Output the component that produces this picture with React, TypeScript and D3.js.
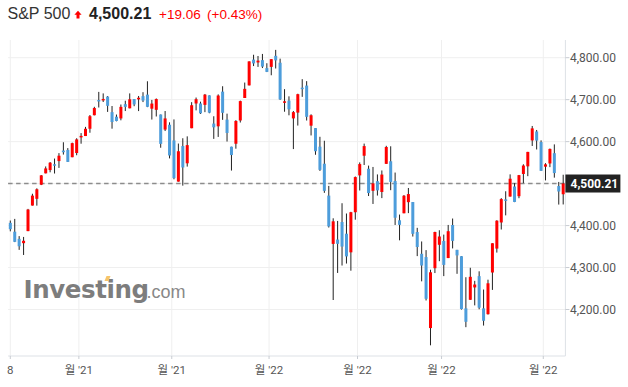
import React from "react";
import * as d3 from "d3";

// S&P 500 daily candles, 2021-10-08 .. 2022-04-07
const dates = [
  "2021-10-08","2021-10-11","2021-10-12","2021-10-13","2021-10-14","2021-10-15","2021-10-18","2021-10-19","2021-10-20","2021-10-21","2021-10-22","2021-10-25","2021-10-26","2021-10-27","2021-10-28","2021-10-29",
  "2021-11-01","2021-11-02","2021-11-03","2021-11-04","2021-11-05","2021-11-08","2021-11-09","2021-11-10","2021-11-11","2021-11-12","2021-11-15","2021-11-16","2021-11-17","2021-11-18","2021-11-19","2021-11-22","2021-11-23","2021-11-24","2021-11-26","2021-11-29","2021-11-30",
  "2021-12-01","2021-12-02","2021-12-03","2021-12-06","2021-12-07","2021-12-08","2021-12-09","2021-12-10","2021-12-13","2021-12-14","2021-12-15","2021-12-16","2021-12-17","2021-12-20","2021-12-21","2021-12-22","2021-12-23","2021-12-27","2021-12-28","2021-12-29","2021-12-30","2021-12-31",
  "2022-01-03","2022-01-04","2022-01-05","2022-01-06","2022-01-07","2022-01-10","2022-01-11","2022-01-12","2022-01-13","2022-01-14","2022-01-18","2022-01-19","2022-01-20","2022-01-21","2022-01-24","2022-01-25","2022-01-26","2022-01-27","2022-01-28","2022-01-31",
  "2022-02-01","2022-02-02","2022-02-03","2022-02-04","2022-02-07","2022-02-08","2022-02-09","2022-02-10","2022-02-11","2022-02-14","2022-02-15","2022-02-16","2022-02-17","2022-02-18","2022-02-22","2022-02-23","2022-02-24","2022-02-25","2022-02-28",
  "2022-03-01","2022-03-02","2022-03-03","2022-03-04","2022-03-07","2022-03-08","2022-03-09","2022-03-10","2022-03-11","2022-03-14","2022-03-15","2022-03-16","2022-03-17","2022-03-18","2022-03-21","2022-03-22","2022-03-23","2022-03-24","2022-03-25","2022-03-28","2022-03-29","2022-03-30","2022-03-31",
  "2022-04-01","2022-04-04","2022-04-05","2022-04-06","2022-04-07",
];

const open = [
  4406.51,4385.44,4368.31,4358.01,4386.75,4447.69,4463.72,4497.34,4524.42,4532.24,4546.12,4553.69,4578.69,4580.22,4562.84,4572.87,
  4610.62,4613.34,4630.65,4662.93,4699.26,4701.48,4707.25,4670.26,4659.39,4655.24,4689.30,4679.42,4701.50,4700.72,4708.44,4712.00,4678.48,4675.78,4664.63,4628.75,4640.25,
  4602.82,4504.73,4589.49,4548.37,4631.97,4690.86,4691.00,4687.64,4710.30,4642.99,4636.46,4719.13,4652.50,4587.90,4594.96,4650.36,4703.96,4733.99,4795.49,4788.64,4794.23,4775.21,
  4778.14,4804.51,4787.99,4693.39,4697.66,4655.34,4669.14,4728.59,4733.56,4637.99,4632.24,4588.03,4547.35,4471.38,4356.32,4366.64,4408.43,4380.58,4336.19,4431.79,
  4519.57,4566.39,4535.41,4482.79,4505.75,4480.02,4547.00,4553.24,4506.27,4412.61,4429.28,4455.75,4456.06,4384.57,4332.74,4324.93,4155.77,4298.38,4354.17,
  4363.14,4322.56,4401.31,4342.12,4327.01,4202.66,4223.10,4252.55,4279.50,4202.75,4188.82,4288.14,4345.11,4407.34,4462.40,4469.10,4493.10,4469.98,4522.91,4541.09,4602.86,4624.20,4599.02,
  4540.32,4547.97,4572.45,4494.17,4474.65,
];

const high = [
  4412.02,4415.88,4374.89,4372.87,4439.73,4475.82,4488.75,4520.40,4540.87,4551.44,4559.67,4572.62,4598.53,4584.57,4597.55,4608.08,
  4620.34,4635.15,4663.46,4683.00,4718.50,4714.92,4708.53,4684.85,4664.55,4688.47,4697.42,4714.95,4701.50,4708.80,4717.75,4743.83,4699.39,4702.87,4664.63,4672.95,4646.02,
  4652.94,4595.46,4608.03,4612.60,4694.04,4705.06,4695.26,4713.57,4710.30,4660.47,4712.60,4731.99,4666.70,4587.90,4651.14,4697.67,4740.74,4791.49,4807.02,4804.06,4808.93,4786.83,
  4796.64,4818.62,4797.70,4725.01,4707.95,4673.02,4714.13,4748.83,4744.13,4665.13,4632.24,4611.55,4602.11,4494.52,4417.35,4411.01,4453.23,4428.74,4432.72,4516.89,
  4550.49,4595.31,4542.88,4539.66,4521.86,4531.32,4590.03,4588.92,4526.33,4426.22,4472.77,4489.55,4456.06,4394.60,4362.12,4341.51,4294.73,4385.34,4388.84,
  4378.45,4401.48,4416.78,4342.12,4327.01,4276.94,4299.40,4268.28,4291.01,4247.57,4271.05,4357.86,4412.67,4465.40,4481.75,4522.00,4501.07,4520.58,4546.03,4575.65,4637.30,4627.77,4603.07,
  4548.70,4583.50,4593.45,4503.94,4521.16,
];

const low = [
  4386.22,4360.59,4342.09,4329.92,4386.75,4447.69,4447.47,4496.41,4524.40,4526.89,4524.00,4537.36,4569.17,4551.66,4562.84,4567.59,
  4595.06,4613.34,4621.19,4662.59,4681.32,4694.39,4670.87,4630.86,4648.31,4650.77,4672.86,4679.42,4684.41,4672.78,4694.22,4682.17,4652.66,4659.89,4585.43,4625.26,4560.00,
  4510.27,4504.73,4495.12,4540.51,4631.97,4674.52,4665.98,4670.24,4667.60,4606.52,4611.22,4651.89,4600.22,4531.10,4583.16,4645.53,4703.96,4733.99,4780.04,4778.08,4775.33,4765.75,
  4758.17,4774.27,4699.44,4671.26,4662.74,4582.24,4638.27,4706.71,4650.29,4614.75,4568.70,4530.20,4477.95,4395.34,4222.62,4287.11,4304.80,4309.50,4292.46,4414.02,
  4483.53,4544.32,4470.39,4451.50,4471.47,4465.40,4547.00,4484.31,4401.41,4364.84,4429.28,4429.68,4373.81,4327.22,4267.11,4221.51,4114.65,4286.83,4315.12,
  4279.54,4322.56,4345.56,4284.98,4199.85,4157.87,4223.10,4209.80,4200.49,4161.72,4187.90,4246.66,4335.65,4390.57,4424.30,4469.10,4455.81,4465.17,4501.07,4517.69,4589.66,4581.32,4530.41,
  4507.57,4539.21,4514.17,4450.04,4450.30,
];

const close = [
  4391.34,4361.19,4350.65,4363.80,4438.26,4471.37,4486.46,4519.63,4536.19,4549.78,4544.90,4566.48,4574.79,4551.68,4596.42,4605.38,
  4613.67,4630.65,4660.57,4680.06,4697.53,4701.70,4685.25,4646.71,4649.27,4682.85,4682.80,4700.90,4688.67,4704.54,4697.96,4682.94,4690.70,4701.46,4594.62,4655.27,4567.00,
  4513.04,4577.10,4538.43,4591.67,4686.75,4701.21,4667.45,4712.02,4668.97,4634.09,4709.85,4668.67,4620.64,4568.02,4649.23,4696.56,4725.79,4791.19,4786.35,4793.06,4778.73,4766.18,
  4796.56,4793.54,4700.58,4696.05,4677.03,4670.29,4713.07,4726.35,4659.03,4662.85,4577.11,4532.76,4482.73,4397.94,4410.13,4356.45,4349.93,4326.51,4431.85,4515.55,
  4546.54,4589.38,4477.44,4500.53,4483.87,4521.54,4587.18,4504.08,4418.64,4401.67,4471.07,4475.01,4380.26,4348.87,4304.76,4225.50,4288.70,4384.65,4373.94,
  4306.26,4386.54,4363.49,4328.87,4201.09,4170.70,4277.88,4259.52,4204.31,4173.11,4262.45,4357.86,4411.67,4463.12,4461.18,4511.61,4456.24,4520.16,4543.06,4575.52,4631.60,4602.45,4530.41,
  4545.86,4582.64,4525.12,4481.15,4500.21,
];

const gridPrices = [4200, 4300, 4400, 4500, 4600, 4700, 4800];
const labelPrices = [4200, 4300, 4400, 4600, 4700, 4800];
const xTickPos = [0.5, 16, 37, 59, 79, 98, 121];
const xTickLabels = ["8", "월 '21", "월 '21", "월 '22", "월 '22", "월 '22", "월 '22"];

const symbol = "S&P 500";
const lastPrice = 4500.21;
const change = 19.06;
const changePct = 0.43;

const UP = "#ff0000";
const DOWN = "#4d9ddb";
const WICK = "#222222";

export default function App() {
  const W = 628, H = 387;
  const left = 8.1, right = 565.4, top = 40, bottom = 356;
  const n = dates.length;
  const x = d3.scaleLinear().domain([0, n]).range([left, right]);
  const y = d3.scaleLinear().domain([4200, 4800]).range([309.5, 57.7]);
  const fmt = d3.format(",.2f");
  const bodyW = 3;

  return (
    <svg width={W} height={H} style={{ position: "absolute", left: 0, top: 0, background: "#fff" }}>
      {/* header */}
      <text x={7.5} y={19} fontFamily="'Liberation Sans', Arial, sans-serif" fontSize={16} fill="#333">{symbol}</text>
      <path d="M78,10.8 L81.6,14.8 L79.5,14.8 L79.5,18.4 L76.5,18.4 L76.5,14.8 L74.4,14.8 Z" fill={UP} />
      <text x={89} y={19} fontFamily="'Liberation Sans', Arial, sans-serif" fontSize={16} fontWeight="bold" fill="#222">{fmt(lastPrice)}</text>
      <text x={159} y={19} fontFamily="'Liberation Sans', Arial, sans-serif" fontSize={13.5} fill={UP}>{"+" + change.toFixed(2)}</text>
      <text x={207} y={19} fontFamily="'Liberation Sans', Arial, sans-serif" fontSize={13.5} fill={UP}>{"(+" + changePct.toFixed(2) + "%)"}</text>

      {/* gridlines */}
      {gridPrices.map((p) => (
        <line key={"h" + p} x1={left} x2={right} y1={y(p)} y2={y(p)} stroke="#efefef" strokeWidth={1} />
      ))}
      {xTickPos.map((t, i) => (
        <line key={"v" + i} x1={x(t)} x2={x(t)} y1={top} y2={bottom} stroke="#efefef" strokeWidth={1} />
      ))}

      {/* watermark */}
      <g>
        <text x={23.5} y={297.5} fontFamily="'DejaVu Sans', sans-serif" fontSize={24.5} fontWeight="bold" letterSpacing={-0.4} fill="#7d7d7d">
          Investing
        </text>
        <text x={146.5} y={297.5} fontFamily="'Liberation Sans', Arial, sans-serif" fontSize={18} fill="#888">.com</text>
        <path d="M104.5,281 L106.5,276 L110.5,276 L108.5,281 Z" fill="#f7c56a" />
      </g>

      {/* axes */}
      <line x1={left} x2={right} y1={bottom} y2={bottom} stroke="#dde1e6" />
      <line x1={right} x2={right} y1={top} y2={bottom} stroke="#dde1e6" />
      {xTickPos.map((t, i) => (
        <g key={"xt" + i}>
          <line x1={x(t)} x2={x(t)} y1={bottom} y2={bottom + 3} stroke="#c8ccd2" />
          <text x={x(t)} y={374} textAnchor="middle" fontFamily="Roboto, 'Noto Sans CJK KR', sans-serif" fontSize={11.5} fill="#555">{xTickLabels[i]}</text>
        </g>
      ))}
      {labelPrices.map((p) => (
        <g key={"yt" + p}>
          <line x1={right} x2={right + 4} y1={y(p)} y2={y(p)} stroke="#c8ccd2" />
          <text x={570} y={y(p) + 4.2} fontFamily="Roboto, sans-serif" fontSize={12} fill="#555">{fmt(p)}</text>
        </g>
      ))}

      {/* last price line */}
      <line x1={left} x2={right} y1={y(lastPrice)} y2={y(lastPrice)} stroke="#8c8c8c" strokeWidth={1.3} strokeDasharray="4.5,3.5" />

      {/* candles */}
      {dates.map((d, i) => {
        const cx = x(i + 0.5);
        const o = open[i], c = close[i];
        const up = c >= o;
        const yTop = y(Math.max(o, c));
        const yBot = y(Math.min(o, c));
        const h = Math.max(1.5, yBot - yTop);
        return (
          <g key={d}>
            <line x1={cx} x2={cx} y1={y(high[i])} y2={y(low[i])} stroke={WICK} strokeWidth={1} />
            <rect x={cx - bodyW / 2} y={yTop} width={bodyW} height={h} fill={up ? UP : DOWN} />
          </g>
        );
      })}

      {/* last price tag */}
      <rect x={right} y={y(lastPrice) - 9} width={55} height={18} fill="#222" />
      <text x={570.5} y={y(lastPrice) + 4.3} fontFamily="Roboto, sans-serif" fontSize={12} fontWeight="bold" fill="#fff">{fmt(lastPrice)}</text>
    </svg>
  );
}
